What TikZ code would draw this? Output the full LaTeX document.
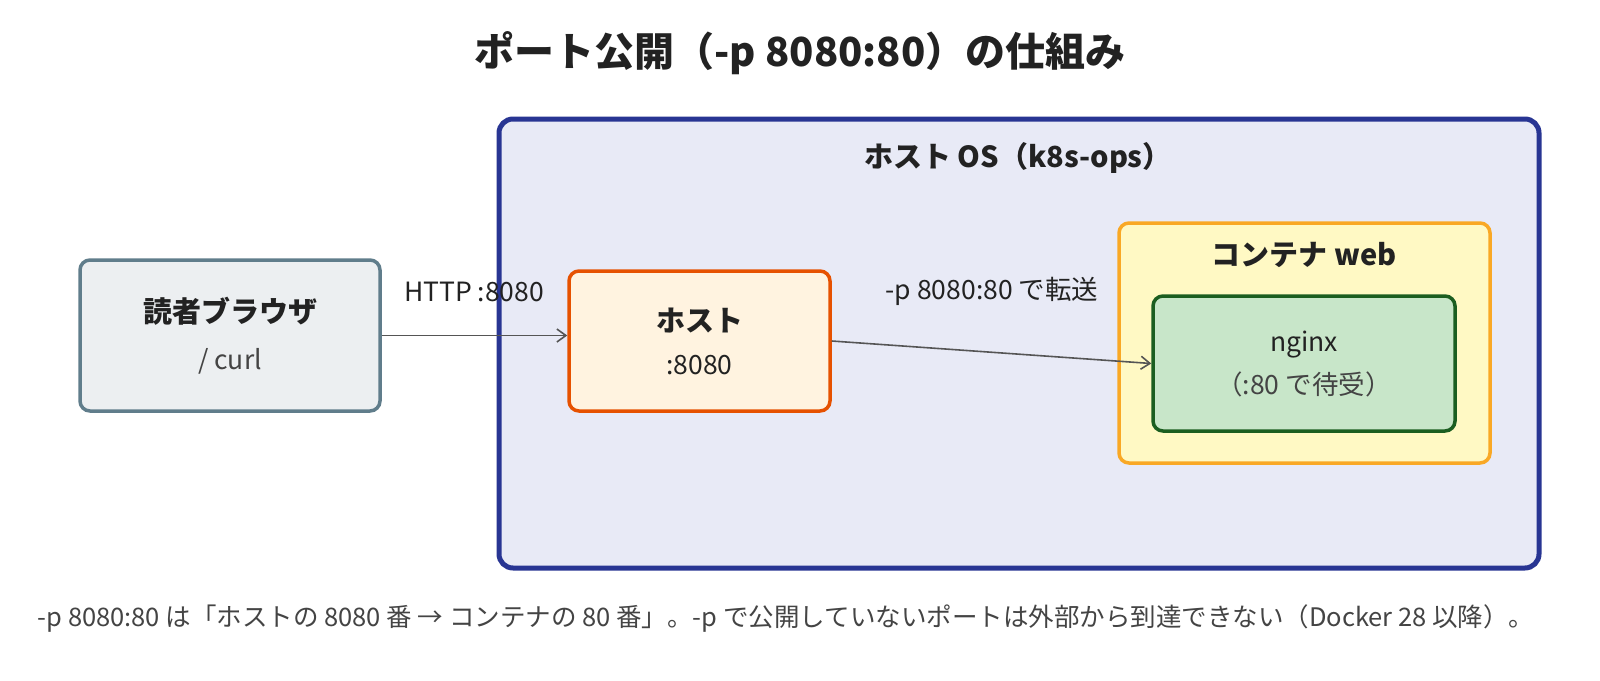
\documentclass[tikz,border=0pt]{standalone}
\usepackage{fontspec}
\setmainfont{Noto Sans CJK JP}
\usetikzlibrary{arrows.meta}

\definecolor{osline}{HTML}{283593}
\definecolor{osfill}{HTML}{E8EAF6}
\definecolor{userline}{HTML}{607D8B}
\definecolor{userfill}{HTML}{ECEFF1}
\definecolor{hostline}{HTML}{E65100}
\definecolor{hostfill}{HTML}{FFF3E0}
\definecolor{ctrline}{HTML}{F9A825}
\definecolor{ctrfill}{HTML}{FFF9C4}
\definecolor{appline}{HTML}{1B5E20}
\definecolor{appfill}{HTML}{C8E6C9}
\definecolor{flowgray}{HTML}{555555}
\definecolor{textdark}{HTML}{222222}
\definecolor{textgray}{HTML}{444444}

\newcommand{\sizetitle}{\fontsize{40}{46}\selectfont}
\newcommand{\sizelabel}{\fontsize{29}{33}\selectfont}
\newcommand{\sizebody}{\fontsize{26.5}{31}\selectfont}
\newcommand{\sizenote}{\fontsize{25.5}{30}\selectfont}

\tikzset{
  box/.style={draw, rounded corners=10pt, line width=3.5pt, align=center, inner sep=0pt, font=\sizebody, text=textdark},
  flow/.style={draw=flowgray, line width=1.6pt, -{Straight Barb[length=9pt,width=13pt]}},
}

\begin{document}
\begin{tikzpicture}[x=1pt,y=-1pt]
\useasboundingbox[fill=white] (0,0) rectangle (1600,680);

\node[font=\sizetitle\bfseries, text=textdark] (title) at (800,53) {ポート公開（-p 8080:80）の仕組み};

% host OS
\node[box, draw=osline, fill=osfill, line width=5pt, rounded corners=14pt, minimum width=1040pt, minimum height=449pt] (hostos) at (1019,343.5) {};
\node[font=\sizelabel\bfseries, text=textdark] (hostoslabel) at (1018,158) {ホスト OS（k8s-ops）};

% boxes
\node[box, draw=userline, fill=userfill, minimum width=300pt, minimum height=151pt] (browser) at (230,335.5)
  {{\sizelabel\bfseries 読者ブラウザ}\\[16pt]{\color{textgray} / curl}};
\node[box, draw=hostline, fill=hostfill, minimum width=261pt, minimum height=140pt] (host) at (699.5,341)
  {{\sizelabel\bfseries ホスト}\\[12pt]:8080};
\node[box, draw=ctrline, fill=ctrfill, minimum width=371pt, minimum height=240pt] (container) at (1304.5,343) {};
\node[font=\sizelabel\bfseries, text=textdark] (containerlabel) at (1304,255) {コンテナ web};
\node[box, draw=appline, fill=appfill, minimum width=302pt, minimum height=135pt] (nginx) at (1304,363.5)
  {nginx\\[12pt]{\color{textgray}（:80 で待受）}};

% arrows
\draw[flow] (browser.east) -- (browser.east -| host.west);
\node[font=\sizebody, text=textdark] (httplabel) at (474,292) {HTTP :8080};
\draw[flow] (host.east) -- (nginx.west);
\node[font=\sizebody, text=textdark] (fwdlabel) at (992,291) {-p 8080:80 で転送};

\node[font=\sizenote, text=textgray] (note) at (786,618) {-p 8080:80 は「ホストの 8080 番 → コンテナの 80 番」。-p で公開していないポートは外部から到達できない（Docker 28 以降）。};
\end{tikzpicture}
\end{document}
